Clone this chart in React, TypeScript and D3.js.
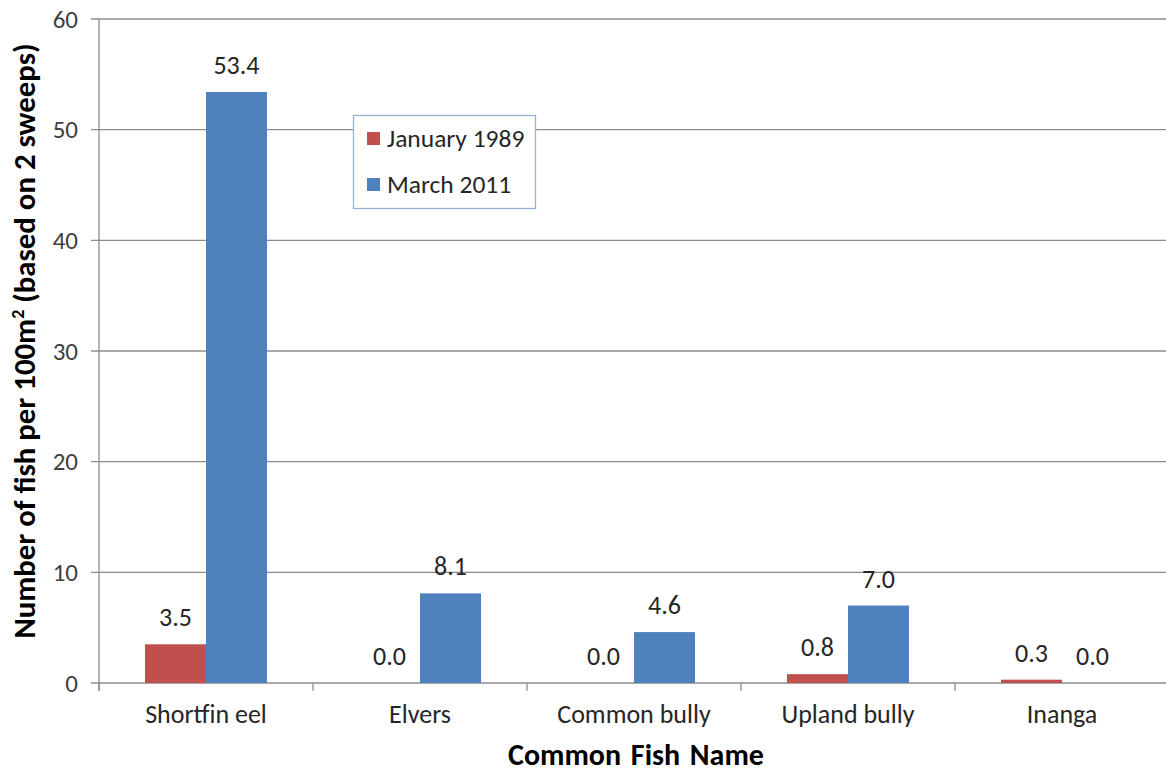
import React from "react";
import * as d3 from "d3";

const categories = ["Shortfin eel", "Elvers", "Common bully", "Upland bully", "Inanga"];
const seriesNames = ["January 1989", "March 2011"];
const jan1989 = [3.5, 0.0, 0.0, 0.8, 0.3];
const mar2011 = [53.4, 8.1, 4.6, 7.0, 0.0];
const yTicks = [0, 10, 20, 30, 40, 50, 60];
const colors = ["#C0504D", "#4F81BD"];

const W = 1166;
const H = 772;
const M = { left: 99, right: 1169, top: 19, bottom: 683 };
const FONT = "Carlito, Calibri, 'Open Sans', 'Liberation Sans', sans-serif";

export default function App() {
  const x = d3.scaleBand<string>().domain(categories).range([M.left, M.right]).paddingInner(0).paddingOuter(0);
  const y = d3.scaleLinear().domain([0, 60]).range([M.bottom, M.top]);
  const bw = x.bandwidth();
  const barW = bw * 0.285;
  const series = [jan1989, mar2011];

  return (
    <div style={{ position: "absolute", left: 0, top: 0 }}>
      <svg width={W} height={H} style={{ display: "block", background: "#fff" }} fontFamily={FONT}>
        {yTicks.map((t) => (
          <g key={t}>
            <line x1={M.left - 8} x2={M.right} y1={y(t)} y2={y(t)} stroke="#8c8c8c" strokeWidth={1.3} />
            <text x={M.left - 21} y={y(t)} dy="0.34em" textAnchor="end" fontSize={25} fill="#404040">
              {t}
            </text>
          </g>
        ))}
        <line x1={M.left} x2={M.left} y1={M.top} y2={M.bottom + 8} stroke="#8c8c8c" strokeWidth={1.3} />
        {categories.map((c, i) => (
          <line key={"t" + i} x1={x(c)!} x2={x(c)!} y1={M.bottom} y2={M.bottom + 8} stroke="#8c8c8c" strokeWidth={1.3} />
        ))}
        {categories.map((c, i) => {
          const cx = x(c)! + bw / 2;
          return (
            <g key={c}>
              {series.map((s, si) => {
                const bx = cx - barW + si * barW;
                const v = s[i];
                return (
                  <g key={si}>
                    <rect x={bx} y={y(v)} width={barW} height={M.bottom - y(v)} fill={colors[si]} />
                    <text x={bx + barW / 2} y={y(v) - 18} textAnchor="middle" fontSize={26} fill="#262626">
                      {v.toFixed(1)}
                    </text>
                  </g>
                );
              })}
              <text x={cx} y={723} textAnchor="middle" fontSize={26} fill="#262626">
                {c}
              </text>
            </g>
          );
        })}
        <text x={636} y={765} textAnchor="middle" fontSize={30} fontWeight="bold" fill="#000" style={{ wordSpacing: "3px" }}>
          Common Fish Name
        </text>
        <text transform={`translate(35,${341}) rotate(-90)`} textAnchor="middle" fontSize={30.8} fontWeight="bold" fill="#000">
          Number of fish per 100m<tspan dy={-11} fontSize={18}>2</tspan>
          <tspan dy={11}> (based on 2 sweeps)</tspan>
        </text>
        <g>
          <rect x={353.5} y={115.5} width={182} height={93} fill="#fff" stroke="#95B3D7" strokeWidth={1.3} />
          {seriesNames.map((n, i) => (
            <g key={n}>
              <rect x={367} y={132 + i * 46} width={13} height={13} fill={colors[i]} />
              <text x={387} y={147 + i * 46} fontSize={25.5} fill="#262626">
                {n}
              </text>
            </g>
          ))}
        </g>
      </svg>
    </div>
  );
}
